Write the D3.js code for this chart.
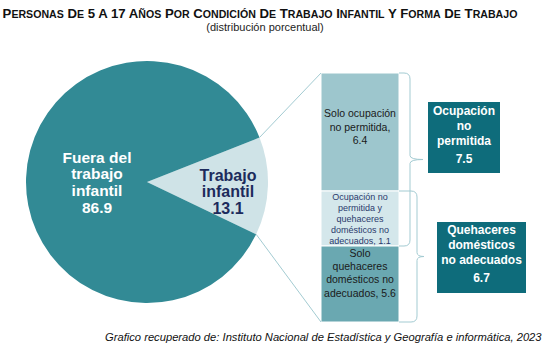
<!DOCTYPE html>
<html><head><meta charset="utf-8">
<script src="https://cdn.jsdelivr.net/npm/d3@7"></script>
<style>body{margin:0;background:#fff}svg{display:block}text{font-family:"Liberation Sans",Arial,sans-serif}</style>
</head><body><svg id="c" width="560" height="361"></svg>
<script>
// ---- data ----
const pieCategories = ["Trabajo infantil", "Fuera del trabajo infantil"];
const pieValues = [13.1, 86.9];
const barCategories = ["Solo ocupación no permitida", "Ocupación no permitida y quehaceres domésticos no adecuados", "Solo quehaceres domésticos no adecuados"];
const barValues = [6.4, 1.1, 5.6];
const groupLabels = ["Ocupación no permitida", "Quehaceres domésticos no adecuados"];
const groupValues = [7.5, 6.7];

const svg = d3.select("#c");

// ---- title ----
const titleWords = "PERSONAS DE 5 A 17 AÑOS POR CONDICIÓN DE TRABAJO INFANTIL Y FORMA DE TRABAJO".split(" ");
const title = svg.append("text").attr("x", 260).attr("y", 18).attr("text-anchor", "middle")
  .attr("font-weight", "bold").attr("fill", "#111");
titleWords.forEach((w, i) => {
  title.append("tspan").attr("font-size", 13.2).text((i ? " " : "") + w[0]);
  if (w.length > 1) title.append("tspan").attr("font-size", /\d/.test(w) ? 13.2 : 10.6).text(w.slice(1));
});
svg.append("text").attr("x", 265).attr("y", 31).attr("text-anchor", "middle")
  .attr("font-size", 11).attr("fill", "#222").text("(distribución porcentual)");

// ---- pie ----
const cx = 147, cy = 182, R = 121;
const deg = Math.PI / 180;
const smallMid = 92 * deg;
const half = pieValues[0] / d3.sum(pieValues) * Math.PI;
const pie = d3.pie().sort(null).startAngle(smallMid - half).endAngle(smallMid - half + 2 * Math.PI);
const arcs = pie(pieValues);
const arc = d3.arc().innerRadius(0).outerRadius(R);
const pieColors = ["#cfe3e7", "#328a95"];
const pg = svg.append("g").attr("transform", `translate(${cx},${cy})`);
pg.selectAll("path").data(arcs).join("path").attr("d", arc).attr("fill", (d, i) => pieColors[i]);

// ---- bar ----
const cum = [0];
barValues.forEach(v => cum.push(cum[cum.length - 1] + v));
const y = d3.scaleLinear().domain(cum).range([73, 191, 246, 322]);
const bx0 = 321, bx1 = 399;
const barColors = ["#9dc6cd", "#d4e7eb", "#6aa8b1"];
svg.selectAll("rect.seg").data(barValues).join("rect").attr("class", "seg")
  .attr("x", bx0).attr("width", bx1 - bx0)
  .attr("y", (d, i) => y(cum[i])).attr("height", (d, i) => y(cum[i + 1]) - y(cum[i]))
  .attr("fill", (d, i) => barColors[i]).attr("stroke", "#fff").attr("stroke-width", 1);

// connector lines
const a0 = arcs[0];
const p = a => [cx + R * Math.sin(a), cy - R * Math.cos(a)];
const up = p(a0.startAngle), lo = p(a0.endAngle);
svg.append("line").attr("x1", up[0]).attr("y1", up[1]).attr("x2", bx0).attr("y2", y(0))
  .attr("stroke", "#a3cbd2").attr("stroke-width", 1);
svg.append("line").attr("x1", lo[0]).attr("y1", lo[1]).attr("x2", bx0).attr("y2", y(cum[3]))
  .attr("stroke", "#a3cbd2").attr("stroke-width", 1);

// bar labels
const segLabels = [
  { lines: ["Solo ocupación", "no permitida,", barValues[0].toFixed(1)], fs: 10.5, lh: 13.5, off: -5, fill: "#1a1a1a" },
  { lines: ["Ocupación no", "permitida y", "quehaceres", "domésticos no", "adecuados, " + barValues[1].toFixed(1)], fs: 9, lh: 11, off: 0, fill: "#2b3a6b" },
  { lines: ["Solo", "quehaceres", "domésticos no", "adecuados, " + barValues[2].toFixed(1)], fs: 10.5, lh: 13.3, off: -11, fill: "#1a1a1a" }
];
segLabels.forEach((s, i) => {
  const c = (y(cum[i]) + y(cum[i + 1])) / 2 + s.off;
  const n = s.lines.length;
  const t = svg.append("text").attr("text-anchor", "middle").attr("font-size", s.fs).attr("fill", s.fill);
  s.lines.forEach((l, j) => t.append("tspan").attr("x", (bx0 + bx1) / 2)
    .attr("y", c + (j - (n - 1) / 2) * s.lh + s.fs * 0.35).text(l));
});

// braces
function brace(x0, xv, xt, y0, y1) {
  const r = 6, m = (y0 + y1) / 2;
  return `M${x0},${y0} L${xv - r},${y0} Q${xv},${y0} ${xv},${y0 + r} L${xv},${m - 4} Q${xv},${m} ${xt},${m} Q${xv},${m} ${xv},${m + 4} L${xv},${y1 - r} Q${xv},${y1} ${xv - r},${y1} L${x0},${y1}`;
}
const braceSpans = [[0, 2], [1, 3]];
const braceX = [[410, 423], [417, 424]];
braceSpans.forEach((s, i) => {
  svg.append("path").attr("d", brace(bx1, braceX[i][0], braceX[i][1], y(cum[s[0]]), y(cum[s[1]])))
    .attr("fill", "none").attr("stroke", "#a3cbd2").attr("stroke-width", 1);
});

// group boxes
const boxes = [
  { x: 428, y: 102, w: 72, h: 71, lines: ["Ocupación", "no", "permitida"], ly: [111, 126, 141], vy: 159 },
  { x: 437, y: 222, w: 89, h: 71, lines: ["Quehaceres", "domésticos", "no adecuados"], ly: [230, 245, 260], vy: 278 }
];
boxes.forEach((b, i) => {
  svg.append("rect").attr("x", b.x).attr("y", b.y).attr("width", b.w).attr("height", b.h).attr("fill", "#0e6c7b");
  const t = svg.append("text").attr("text-anchor", "middle").attr("font-size", 12).attr("font-weight", "bold").attr("fill", "#fff");
  b.lines.forEach((l, j) => t.append("tspan").attr("x", b.x + b.w / 2).attr("y", b.ly[j] + 4.3).text(l));
  t.append("tspan").attr("x", b.x + b.w / 2).attr("y", b.vy + 4.3).text(groupValues[i].toFixed(1));
});

// pie labels
const bigT = svg.append("text").attr("text-anchor", "middle").attr("font-size", 15.5).attr("font-weight", "bold").attr("fill", "#fff");
["Fuera del", "trabajo", "infantil", pieValues[1].toFixed(1)].forEach((l, j) =>
  bigT.append("tspan").attr("x", cx - 50).attr("y", 157 + j * 16.7 + 5.5).text(l));
const smT = svg.append("text").attr("text-anchor", "middle").attr("font-size", 16).attr("font-weight", "bold").attr("fill", "#1c2b5c");
["Trabajo", "infantil", pieValues[0].toFixed(1)].forEach((l, j) =>
  smT.append("tspan").attr("x", cx + 81).attr("y", 175 + j * 16.5 + 5.7).text(l));

// footer
svg.append("text").attr("x", 105).attr("y", 341).attr("font-size", 11.2).attr("font-style", "italic").attr("fill", "#111")
  .text("Grafico recuperado de: Instituto Nacional de Estadística y Geografía e informática, 2023");
</script></body></html>
